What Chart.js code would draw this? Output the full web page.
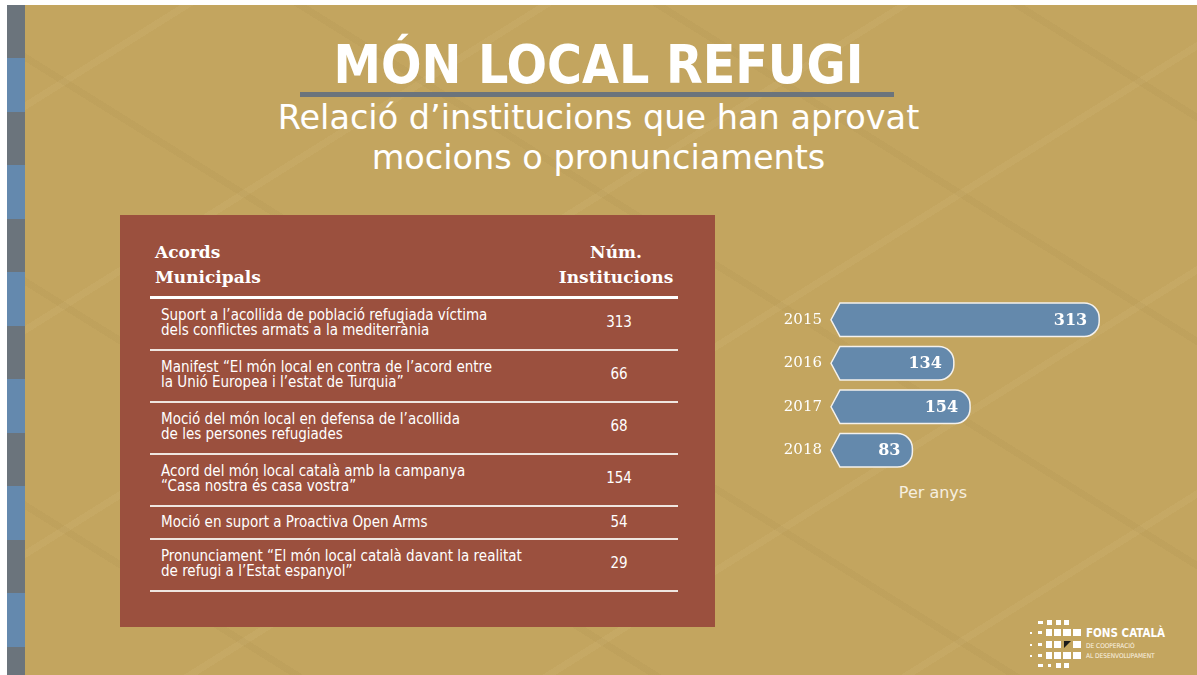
<!DOCTYPE html>
<html>
<head>
<meta charset="utf-8">
<script src="https://cdn.jsdelivr.net/npm/chart.js@4/dist/chart.umd.min.js"></script>
<style>
  html, body { margin: 0; padding: 0; background: #ffffff; }
  #slide { position: absolute; left: 7px; top: 5px; width: 1190px; height: 670px; overflow: hidden;
    background-color: #C3A55F;
    background-image:
      repeating-linear-gradient(32deg, rgba(0,0,0,0) 0px, rgba(0,0,0,0) 150px, rgba(120,95,40,0.05) 150px, rgba(120,95,40,0.05) 157px, rgba(0,0,0,0) 157px, rgba(0,0,0,0) 190px),
      repeating-linear-gradient(-32deg, rgba(0,0,0,0) 0px, rgba(0,0,0,0) 150px, rgba(255,240,200,0.05) 150px, rgba(255,240,200,0.05) 157px, rgba(0,0,0,0) 157px, rgba(0,0,0,0) 190px);
  }
  #strip { position: absolute; left: 0; top: 0; width: 18px; height: 670px;
    background: repeating-linear-gradient(to bottom, #6B747C 0px, #6B747C 53px, #6489AE 53px, #6489AE 107px); }
  .abs { position: absolute; color: #ffffff; white-space: nowrap; }
  #title { left: 0; width: 1197px; top: 38px; text-align: center; font-family: "DejaVu Sans Condensed", "DejaVu Sans", sans-serif;
    font-weight: bold; font-size: 53px; line-height: 53px; }
  #rule { position: absolute; left: 300px; top: 92px; width: 594px; height: 5px; background: #6B747C; }
  #sub { left: 0; width: 1197px; top: 98px; text-align: center; font-family: "DejaVu Sans", sans-serif;
    font-size: 33.5px; line-height: 40px; }
  #box { position: absolute; left: 120px; top: 215px; width: 595px; height: 412px; background: #9B503E; }
  #thead { left: 155px; top: 240px; font-family: "DejaVu Serif", serif; font-weight: bold; font-size: 17px; line-height: 25px; }
  #thead2 { left: 556px; width: 120px; top: 240px; text-align: center; font-family: "DejaVu Serif", serif; font-weight: bold; font-size: 17px; line-height: 25px; }
  #thick { position: absolute; left: 150px; top: 296px; width: 528px; height: 3px; background: #ffffff; }
  #rows { position: absolute; left: 150px; top: 299px; width: 528px; }
  .row { box-sizing: border-box; height: 52px; padding-bottom: 3px; display: flex; align-items: center; border-bottom: 2px solid #EFE6E0; color: #ffffff;
    font-family: "DejaVu Sans Condensed", "DejaVu Sans", sans-serif; font-size: 15px; line-height: 14.5px; }
  .row.single { height: 33px; padding-bottom: 1px; }
  .row .t { width: 406px; padding-left: 11px; white-space: pre; }
  .row .n { width: 120px; text-align: center; }
  #chartWrap { position: absolute; left: 770px; top: 289px; width: 350px; height: 192px; }
  #peranys { left: 880px; width: 106px; top: 484px; text-align: center; font-family: "DejaVu Sans", sans-serif;
    font-size: 16px; line-height: 18px; color: #F6EFE0; }
  .sq { position: absolute; background: #ffffff; }
  #logoText1 { left: 1086px; top: 627px; font-family: "DejaVu Sans Condensed", "DejaVu Sans", sans-serif; font-weight: bold; font-size: 11.5px; line-height: 12px; }
  #logoText2 { left: 1086px; top: 641px; font-family: "DejaVu Sans Condensed", "DejaVu Sans", sans-serif; font-size: 6.5px; line-height: 10px; color: #FBF4E4; }
</style>
</head>
<body>
<div id="slide"><div id="strip"></div></div>
<div class="abs" id="title">MÓN LOCAL REFUGI</div>
<div id="rule"></div>
<div class="abs" id="sub">Relació d’institucions que han aprovat<br>mocions o pronunciaments</div>
<div id="box"></div>
<div class="abs" id="thead">Acords<br>Municipals</div>
<div class="abs" id="thead2">Núm.<br>Institucions</div>
<div id="thick"></div>
<div id="rows"></div>
<div id="chartWrap"><canvas id="c" width="350" height="192"></canvas></div>
<div class="abs" id="peranys">Per anys</div>
<div id="logo"></div>
<div class="abs" id="logoText1">FONS CATALÀ</div>
<div class="abs" id="logoText2">DE COOPERACIÓ<br>AL DESENVOLUPAMENT</div>
<script>
// ---- data ----
const years = ["2015", "2016", "2017", "2018"];
const yearValues = [313, 134, 154, 83];
const acords = [
  "Suport a l’acollida de població refugiada víctima\ndels conflictes armats a la mediterrània",
  "Manifest “El món local en contra de l’acord entre\nla Unió Europea i l’estat de Turquia”",
  "Moció del món local en defensa de l’acollida\nde les persones refugiades",
  "Acord del món local català amb la campanya\n“Casa nostra és casa vostra”",
  "Moció en suport a Proactiva Open Arms",
  "Pronunciament “El món local català davant la realitat\nde refugi a l’Estat espanyol”"
];
const acordCounts = [313, 66, 68, 154, 54, 29];

// ---- table ----
const rowsEl = document.getElementById('rows');
acords.forEach((txt, i) => {
  const r = document.createElement('div');
  r.className = txt.indexOf('\n') < 0 ? 'row single' : 'row';
  const t = document.createElement('div'); t.className = 't'; t.textContent = txt;
  const n = document.createElement('div'); n.className = 'n'; n.textContent = acordCounts[i];
  r.appendChild(t); r.appendChild(n);
  rowsEl.appendChild(r);
});

// ---- logo squares (decorative) ----
const logo = document.getElementById('logo');
const logoRows = [
  {y: 620, h: 5, cells: [[1038,5,3],[1047,5,5],[1056,5,5],[1064,5,5]]},
  {y: 629, h: 7, cells: [[1030,2,2],[1038,4,3],[1046,6,7],[1054,7,7],[1063,8,7],[1073,8,7]]},
  {y: 641, h: 7, cells: [[1030,2,2],[1038,4,3],[1046,6,7],[1054,7,7],[1073,8,7]]},
  {y: 652, h: 7, cells: [[1030,2,2],[1038,4,3],[1046,6,7],[1054,7,7],[1063,8,7],[1073,8,7]]},
  {y: 663, h: 5, cells: [[1038,5,3],[1048,3,3],[1056,5,5],[1064,5,5]]}
];
logoRows.forEach(r => r.cells.forEach(c => {
  const d = document.createElement('div'); d.className = 'sq';
  d.style.left = c[0] + 'px'; d.style.top = (r.y + (r.h - c[2]) / 2) + 'px';
  d.style.width = c[1] + 'px'; d.style.height = c[2] + 'px';
  logo.appendChild(d);
}));
const tri = document.createElement('div');
tri.style.cssText = 'position:absolute;left:1064px;top:641px;width:0;height:0;border-top:7px solid #1a1a1a;border-right:7px solid transparent;';
logo.appendChild(tri);

// ---- chart ----
const arrowBars = {
  id: 'arrowBars',
  afterDatasetsDraw(chart) {
    const ctx = chart.ctx;
    const meta = chart.getDatasetMeta(0);
    meta.data.forEach((el, i) => {
      const p = el.getProps(['x', 'y', 'base', 'height'], true);
      const h = p.height, top = p.y - h / 2, bot = p.y + h / 2;
      const corner = p.base - 5, tip = p.base - 14, right = p.x;
      const r = Math.min(h / 2, 15);
      ctx.save();
      ctx.beginPath();
      ctx.moveTo(tip, p.y);
      ctx.lineTo(corner, top);
      ctx.lineTo(right - r, top);
      ctx.arcTo(right, top, right, p.y, r);
      ctx.lineTo(right, bot - r);
      ctx.arcTo(right, bot, right - r, bot, r);
      ctx.lineTo(corner, bot);
      ctx.closePath();
      ctx.fillStyle = '#6489AC';
      ctx.fill();
      ctx.lineWidth = 1.5;
      ctx.strokeStyle = '#F4F1EC';
      ctx.stroke();
      ctx.fillStyle = '#ffffff';
      ctx.font = 'bold 16px "DejaVu Serif", serif';
      ctx.textAlign = 'right';
      ctx.textBaseline = 'middle';
      ctx.fillText(String(yearValues[i]), right - 12, p.y + 1);
      ctx.restore();
    });
  }
};

new Chart(document.getElementById('c'), {
  type: 'bar',
  data: {
    labels: years,
    datasets: [{
      data: yearValues,
      backgroundColor: 'rgba(0,0,0,0)',
      borderWidth: 0,
      barPercentage: 0.77,
      categoryPercentage: 1
    }]
  },
  options: {
    indexAxis: 'y',
    responsive: false,
    animation: false,
    events: [],
    layout: { padding: { top: 0, bottom: 0, right: 7, left: 0 } },
    plugins: { legend: { display: false }, tooltip: { enabled: false } },
    scales: {
      x: { display: false, min: 0, max: 330 },
      y: {
        afterFit(scale) { scale.width = 75; },
        grid: { display: false, tickLength: 23 },
        border: { display: false },
        ticks: { color: '#ffffff', padding: 0, font: { family: '"DejaVu Serif", serif', size: 15 } }
      }
    }
  },
  plugins: [arrowBars]
});
</script>
</body>
</html>
